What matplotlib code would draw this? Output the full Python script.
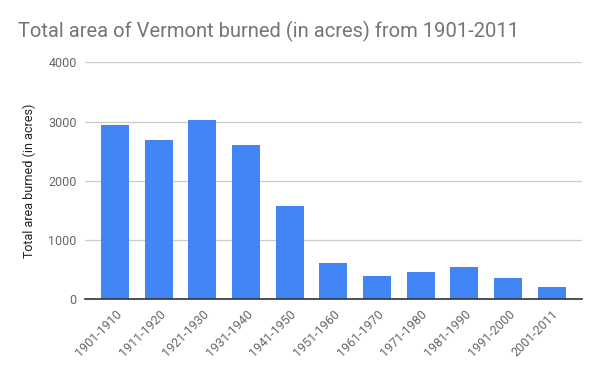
import matplotlib
matplotlib.use("Agg")
import matplotlib.pyplot as plt

# decades and acres burned
decades = ["1901-1910", "1911-1920", "1921-1930", "1931-1940", "1941-1950",
           "1951-1960", "1961-1970", "1971-1980", "1981-1990", "1991-2000",
           "2001-2011"]
acres = [2942, 2689, 3026, 2604, 1575, 613, 393, 461, 545, 360, 208]
y_ticks = [0, 1000, 2000, 3000, 4000]

plt.rcParams['font.family'] = ['Roboto', 'DejaVu Sans']

fig = plt.figure(figsize=(6, 3.71), dpi=100)
ax = fig.add_axes([0.1417, 0.193, 0.828, 0.639])

x = range(len(decades))
ax.bar(x, acres, width=0.64, color="#4285F4", zorder=2)

ax.set_xlim(-0.69, len(decades) - 1 + 0.69)
ax.set_ylim(0, 4000)
ax.set_yticks(y_ticks)
ax.set_yticklabels([str(t) for t in y_ticks], color="#666666", fontsize=9)
ax.set_xticks(list(x))
ax.set_xticklabels(decades, rotation=45, ha="right", rotation_mode="anchor",
                   color="#666666", fontsize=9)
ax.tick_params(axis="both", length=0)
ax.tick_params(axis="y", pad=6)
ax.tick_params(axis="x", pad=6)

ax.grid(axis="y", color="#cccccc", linewidth=0.9, zorder=0)
for side in ["top", "right", "left"]:
    ax.spines[side].set_visible(False)
ax.spines["bottom"].set_color("#333333")
ax.spines["bottom"].set_linewidth(1.2)
ax.spines["bottom"].set_zorder(3)

ax.set_ylabel("Total area burned (in acres)", color="#222222", fontsize=9,
              labelpad=9)

fig.text(18 / 600, 1 - 31 / 371, "Total area of Vermont burned (in acres) from 1901-2011",
         fontsize=14.5, color="#757575", va="center", ha="left")

fig.savefig("out.png", dpi=100)
